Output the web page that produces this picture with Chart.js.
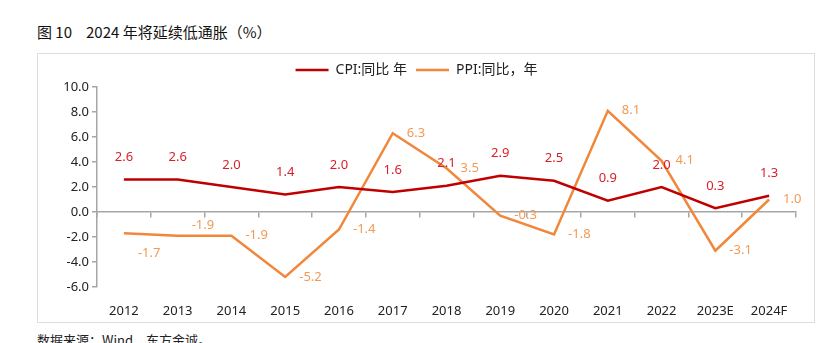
<!DOCTYPE html>
<html>
<head>
<meta charset="utf-8">
<script src="https://cdn.jsdelivr.net/npm/chart.js@4"></script>
<style>
  body { margin: 0; background: #fff; width: 816px; height: 343px; overflow: hidden; position: relative; font-family: "Noto Sans CJK SC", "Noto Sans", sans-serif; }
  #title { position: absolute; left: 37px; top: 21px; font-size: 15px; color: #111; white-space: pre; }
  #title span { margin-left: 14px; }
  #frame { position: absolute; left: 37px; top: 53px; width: 776px; height: 268px; border: 1.5px solid #dcdcdc; }
  #wrap { position: absolute; left: 37px; top: 54px; width: 777px; height: 269px; }
  #source { position: absolute; left: 37px; top: 330px; font-size: 13px; color: #222; }
</style>
</head>
<body>
<div id="title">图 10<span>2024 年将延续低通胀（%）</span></div>
<div id="frame"></div>
<div id="wrap"><canvas id="chart"></canvas></div>
<div id="source">数据来源：Wind，东方金诚。</div>
<script>
// CPI / PPI yearly change, 2012 - 2024F

const years = ['2012', '2013', '2014', '2015', '2016', '2017', '2018', '2019', '2020', '2021', '2022', '2023E', '2024F'];
const cpi = [2.6, 2.6, 2.0, 1.4, 2.0, 1.6, 2.1, 2.9, 2.5, 0.9, 2.0, 0.3, 1.3];
const ppi = [-1.7, -1.9, -1.9, -5.2, -1.4, 6.3, 3.5, -0.3, -1.8, 8.1, 4.1, -3.1, 1.0];
const yTicks = [-6, -4, -2, 0, 2, 4, 6, 8, 10];

const CPI_COLOR = '#c00000';
const PPI_COLOR = '#f0873a';
const FONT = '"Noto Sans", "Noto Sans CJK SC", sans-serif';

// value labels next to each point
const valueLabels = {
    id: 'valueLabels',
    afterDatasetsDraw(chart) {
        const ctx = chart.ctx;
        ctx.save();
        ctx.font = '13px ' + FONT;
        ctx.textBaseline = 'middle';
        chart.data.datasets.forEach((ds, di) => {
            const meta = chart.getDatasetMeta(di);
            meta.data.forEach((pt, i) => {
                const txt = ds.data[i].toFixed(1);
                ctx.fillStyle = ds.labelColor;
                if (di === 0) {
                    ctx.textAlign = 'center';
                    ctx.fillText(txt, pt.x, pt.y - 22);
                } else {
                    ctx.textAlign = 'left';
                    let dy = 0;
                    if (i === 0) dy = 20;   // 2012 sits below the line
                    if (i === 1) dy = -10;  // 2013 sits above
                    ctx.fillText(txt, pt.x + 14, pt.y + dy);
                }
            });
        });
        ctx.restore();
    }
};

new Chart(document.getElementById('chart'), {
    type: 'line',
    data: {
        labels: years,
        datasets: [
            {
                label: 'CPI:同比 年',
                data: cpi,
                borderColor: CPI_COLOR,
                backgroundColor: CPI_COLOR,
                labelColor: '#d8202c',
                borderWidth: 2.5,
                pointRadius: 0,
                tension: 0,
                fill: false
            },
            {
                label: 'PPI:同比，年',
                data: ppi,
                borderColor: PPI_COLOR,
                backgroundColor: PPI_COLOR,
                labelColor: '#f39a55',
                borderWidth: 2.5,
                pointRadius: 0,
                tension: 0,
                fill: false
            }
        ]
    },
    options: {
        responsive: true,
        maintainAspectRatio: false,
        animation: false,
        layout: { padding: { top: 0, right: 18, left: 0, bottom: 0 } },
        plugins: {
            legend: {
                position: 'top',
                labels: {
                    boxWidth: 33,
                    boxHeight: 2.5,
                    padding: 9,
                    color: '#222',
                    font: { size: 14, family: FONT },
                    generateLabels(chart) {
                        // thin line swatches, no outline
                        return Chart.defaults.plugins.legend.labels.generateLabels(chart).map(item => {
                            item.lineWidth = 0;
                            item.strokeStyle = 'transparent';
                            return item;
                        });
                    }
                }
            },
            tooltip: { enabled: false }
        },
        scales: {
            x: {
                offset: true,
                grid: { display: false },
                border: { display: false },
                ticks: { color: '#222', padding: 8, font: { size: 13, family: FONT }, maxRotation: 0, autoSkip: false },
                afterFit(scale) { scale.height = 36; }
            },
            xZero: {
                type: 'category',
                position: { y: 0 },
                offset: true,
                grid: { offset: true, drawOnChartArea: false, tickLength: 5, color: '#a6a6a6', lineWidth: 1.5 },
                border: { color: '#a6a6a6', width: 1.5 },
                ticks: { display: false }
            },
            y: {
                min: yTicks[0],
                max: yTicks[yTicks.length - 1],
                afterBuildTicks(scale) { scale.ticks = yTicks.map(v => ({ value: v })); },
                grid: { drawOnChartArea: false, tickLength: 5, color: '#a6a6a6', lineWidth: 1.5 },
                border: { color: '#a6a6a6', width: 1.5 },
                ticks: {
                    color: '#222',
                    padding: 3,
                    font: { size: 13, family: FONT },
                    callback: v => Number(v).toFixed(1)
                },
                afterFit(scale) { scale.width = 60; }
            }
        }
    },
    plugins: [valueLabels]
});
</script>
</body>
</html>
